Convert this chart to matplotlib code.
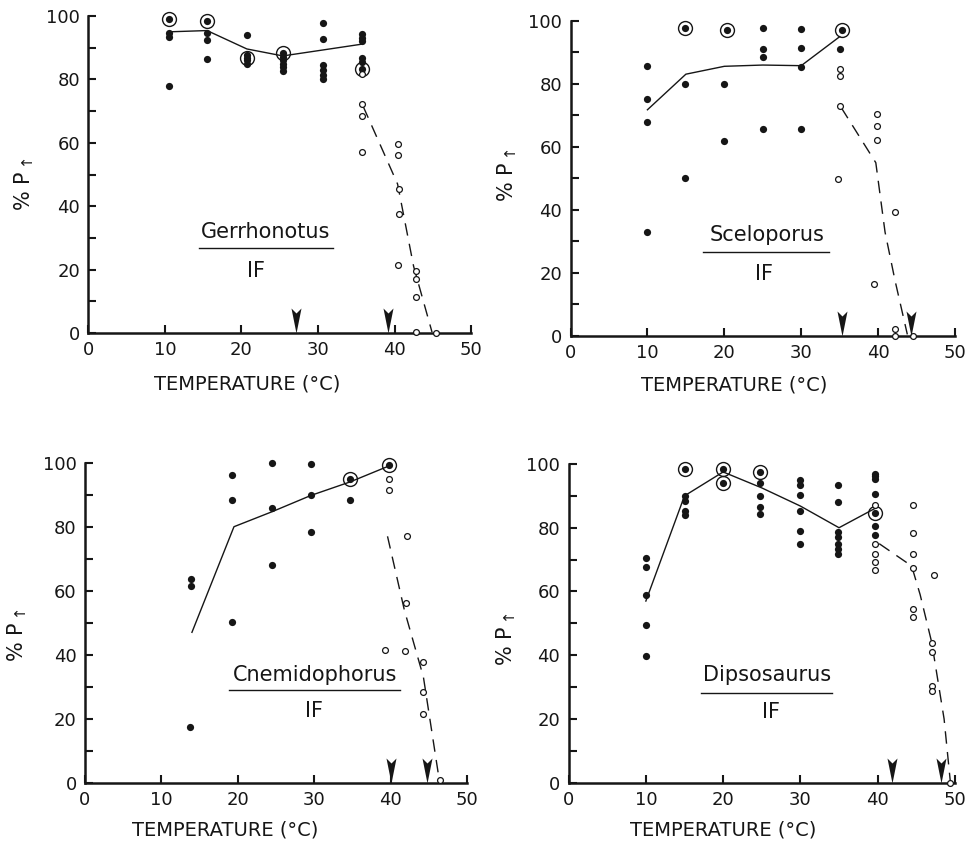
import matplotlib
matplotlib.use("Agg")
import matplotlib.pyplot as plt
from matplotlib.path import Path

INK = "#161616"

# ---- Gerrhonotus (IF) ----
gerr_fill_x = [10.5, 10.5, 10.5, 15.5, 15.5, 15.5, 20.7, 20.7, 20.7, 20.7,
               25.4, 25.4, 25.4, 25.4, 25.4, 30.7, 30.7, 30.7, 30.7, 30.7, 30.7,
               35.7, 35.7, 35.7, 35.7, 35.7]
gerr_fill_y = [94.7, 93.3, 77.9, 94.6, 92.5, 86.3, 94.0, 87.7, 86.1, 84.8,
               87.1, 86.1, 84.9, 83.9, 82.8, 97.8, 92.7, 84.6, 83.1, 81.5, 80.0,
               94.2, 93.1, 92.2, 86.6, 85.6]
gerr_ring_x = [10.5, 15.5, 20.7, 25.4, 35.7]
gerr_ring_y = [99.1, 98.4, 86.6, 88.3, 83.3]
gerr_open_x = [35.7, 35.7, 35.7, 35.7, 40.4, 40.4, 40.6, 40.6, 40.4,
               42.8, 42.8, 42.8, 42.8, 45.4]
gerr_open_y = [81.7, 72.1, 68.5, 57.2, 59.7, 56.1, 45.4, 37.4, 21.5,
               19.7, 17.0, 11.3, 0.3, 0.0]
gerr_mean_x = [10.5, 15.5, 20.7, 25.4, 30.7, 35.7]
gerr_mean_y = [95.0, 95.4, 89.6, 87.4, 89.3, 91.1]
gerr_dash_x = [35.9, 40.4, 42.5, 44.9]
gerr_dash_y = [71.5, 47.0, 21.0, 0.3]
gerr_arrows = [27.1, 39.2]

# ---- Sceloporus (IF) ----
scel_fill_x = [10, 10, 10, 10, 14.9, 14.9, 20, 20, 25, 25, 25, 25,
               30, 30, 30, 30, 35.0]
scel_fill_y = [85.8, 75.3, 68.0, 33.0, 80.0, 50.0, 80.0, 62.0, 97.9, 91.1, 88.5, 65.7,
               97.4, 91.4, 85.5, 65.7, 91.1]
scel_ring_x = [14.9, 20.3, 35.3]
scel_ring_y = [97.8, 97.2, 97.2]
scel_open_x = [35.1, 35.1, 35.1, 34.8, 39.8, 39.8, 39.8, 39.5, 42.2, 42.2, 42.2, 44.5]
scel_open_y = [84.6, 82.4, 73.0, 49.7, 70.6, 66.6, 62.3, 16.4, 39.5, 2.2, 0.0, 0.0]
scel_mean_x = [10, 15, 20, 25, 30, 35]
scel_mean_y = [71.8, 83.1, 85.6, 86.0, 85.8, 95.0]
scel_dash_x = [35.2, 39.7, 40.9, 42.2, 43.8]
scel_dash_y = [72.5, 55.0, 33.0, 17.6, 0.5]
scel_arrows = [35.3, 44.3]

# ---- Cnemidophorus (IF) ----
cnem_fill_x = [13.9, 13.9, 13.8, 19.3, 19.3, 19.2, 24.5, 24.5, 24.5,
               29.6, 29.6, 29.6, 34.7]
cnem_fill_y = [63.8, 61.5, 17.5, 96.1, 88.5, 50.3, 99.8, 85.7, 67.9,
               99.5, 89.8, 78.4, 88.2]
cnem_ring_x = [34.7, 39.8]
cnem_ring_y = [94.8, 99.3]
cnem_open_x = [39.8, 39.8, 39.3, 42.2, 42.0, 41.9, 44.3, 44.3, 44.2, 46.5]
cnem_open_y = [94.8, 91.5, 41.4, 77.0, 56.1, 41.3, 37.6, 28.5, 21.6, 1.0]
cnem_mean_x = [14.0, 19.5, 24.5, 29.6, 34.7, 39.8]
cnem_mean_y = [47.0, 80.0, 84.7, 89.8, 94.0, 99.0]
cnem_dash_x = [39.6, 41.8, 44.3, 46.3]
cnem_dash_y = [77.0, 54.0, 33.0, 2.0]
cnem_arrows = [40.0, 44.8]

# ---- Dipsosaurus (IF) ----
dips_fill_x = [10, 10, 10, 10, 10, 15.1, 15.1, 15.1, 15.1,
               24.8, 24.8, 24.8, 24.8,
               29.9, 29.9, 29.9, 29.9, 29.9, 29.9,
               34.9, 34.9, 34.9, 34.9, 34.9, 34.9, 34.9,
               39.7, 39.7, 39.7, 39.7, 39.7, 39.7]
dips_fill_y = [70.5, 67.7, 58.9, 49.6, 39.6, 89.8, 88.5, 85.2, 84.1,
               93.9, 89.8, 86.4, 84.3,
               95.1, 93.4, 90.3, 85.3, 79.1, 74.8,
               93.4, 88.0, 78.6, 77.1, 75.0, 73.4, 71.7,
               96.8, 96.1, 95.3, 90.6, 80.4, 77.6]
dips_ring_x = [15.1, 20.0, 20.0, 24.8, 39.7]
dips_ring_y = [98.3, 98.3, 93.9, 97.6, 84.6]
dips_open_x = [39.7, 39.7, 39.7, 39.7, 39.7,
               44.6, 44.6, 44.6, 44.6, 44.6, 44.6,
               47.3, 47.0, 47.0, 47.0, 47.0, 49.4]
dips_open_y = [87.2, 75.0, 71.9, 69.3, 66.7,
               87.1, 78.2, 71.9, 67.4, 54.6, 52.0,
               65.3, 43.7, 41.1, 30.2, 28.9, 0.0]
dips_mean_x = [10, 15, 20, 25, 30, 35, 40]
dips_mean_y = [57.0, 90.0, 97.5, 92.5, 86.8, 80.0, 86.5]
dips_dash_x = [40.2, 44.4, 45.5, 47.0, 48.6, 49.4]
dips_dash_y = [75.0, 68.0, 59.0, 44.0, 20.0, 0.5]
dips_arrows = [41.9, 48.2]

# notched down-pointing arrowhead, tip at the marker origin
ARROW = Path([(0, 0), (-0.2, 1.0), (0, 0.8), (0.2, 1.0), (0, 0)],
             [Path.MOVETO, Path.LINETO, Path.LINETO, Path.LINETO, Path.CLOSEPOLY])

plt.rcParams['font.family'] = ['DejaVu Sans']

fig = plt.figure(figsize=(9.67, 8.41), dpi=100)
fig.patch.set_facecolor('white')

panels = [
    dict(rect=[0.0915, 0.604, 0.3956, 0.377], name='Gerrhonotus',
         fx=gerr_fill_x, fy=gerr_fill_y, rx=gerr_ring_x, ry=gerr_ring_y,
         ox=gerr_open_x, oy=gerr_open_y, mx=gerr_mean_x, my=gerr_mean_y,
         dx=gerr_dash_x, dy=gerr_dash_y, arrows=gerr_arrows,
         name_xy=(0.464, 0.32), bar=(0.29, 0.638, 0.267), if_xy=(0.438, 0.197),
         ylab=(-0.137, 0.47), xlab=(0.414, -0.132)),
    dict(rect=[0.590, 0.6005, 0.3976, 0.3746], name='Sceloporus',
         fx=scel_fill_x, fy=scel_fill_y, rx=scel_ring_x, ry=scel_ring_y,
         ox=scel_open_x, oy=scel_open_y, mx=scel_mean_x, my=scel_mean_y,
         dx=scel_dash_x, dy=scel_dash_y, arrows=scel_arrows,
         name_xy=(0.51, 0.32), bar=(0.345, 0.672, 0.268), if_xy=(0.503, 0.197),
         ylab=(-0.135, 0.51), xlab=(0.425, -0.124)),
    dict(rect=[0.0879, 0.0693, 0.395, 0.3805], name='Cnemidophorus',
         fx=cnem_fill_x, fy=cnem_fill_y, rx=cnem_ring_x, ry=cnem_ring_y,
         ox=cnem_open_x, oy=cnem_open_y, mx=cnem_mean_x, my=cnem_mean_y,
         dx=cnem_dash_x, dy=cnem_dash_y, arrows=cnem_arrows,
         name_xy=(0.602, 0.337), bar=(0.378, 0.825, 0.29), if_xy=(0.6, 0.225),
         ylab=(-0.146, 0.46), xlab=(0.366, -0.117)),
    dict(rect=[0.588, 0.0693, 0.3995, 0.379], name='Dipsosaurus',
         fx=dips_fill_x, fy=dips_fill_y, rx=dips_ring_x, ry=dips_ring_y,
         ox=dips_open_x, oy=dips_open_y, mx=dips_mean_x, my=dips_mean_y,
         dx=dips_dash_x, dy=dips_dash_y, arrows=dips_arrows,
         name_xy=(0.514, 0.338), bar=(0.344, 0.683, 0.282), if_xy=(0.525, 0.223),
         ylab=(-0.13, 0.45), xlab=(0.40, -0.117)),
]

for p in panels:
    ax = fig.add_axes(p['rect'])
    ax.set_xlim(0, 50)
    ax.set_ylim(0, 100)

    ### lines
    ax.plot(p['mx'], p['my'], color=INK, lw=1.0, zorder=2)
    ax.plot(p['dx'], p['dy'], color=INK, lw=1.0, dashes=(9, 6), zorder=2)

    ### points
    ax.plot(p['fx'], p['fy'], 'o', ms=5.2, mfc=INK, mec=INK, mew=0,
            zorder=3, clip_on=False)
    ax.plot(p['rx'], p['ry'], 'o', ms=5.2, mfc=INK, mec=INK, mew=0,
            zorder=3, clip_on=False)
    ax.plot(p['rx'], p['ry'], 'o', ms=10, mfc='none', mec=INK, mew=1.0,
            zorder=3, clip_on=False)
    ax.plot(p['ox'], p['oy'], 'o', ms=4.2, mfc='white', mec=INK, mew=0.9,
            zorder=4, clip_on=False)

    ### arrowheads on the temperature axis
    ax.plot(p['arrows'], [0] * len(p['arrows']), linestyle='none', marker=ARROW,
            ms=36, mfc=INK, mec=INK, mew=0, zorder=5, clip_on=False)

    ### species label
    nx, ny = p['name_xy']
    ax.text(nx, ny, p['name'], transform=ax.transAxes, ha='center', va='center',
            fontsize=15, color=INK)
    x0, x1, yb = p['bar']
    ax.plot([x0, x1], [yb, yb], transform=ax.transAxes, color=INK, lw=1.0)
    ix, iy = p['if_xy']
    ax.text(ix, iy, 'IF', transform=ax.transAxes, ha='center', va='center',
            fontsize=15, color=INK)

    ### axes styling
    for side in ['top', 'right']:
        ax.spines[side].set_visible(False)
    for side in ['left', 'bottom']:
        ax.spines[side].set_linewidth(1.8)
        ax.spines[side].set_color(INK)
    ax.set_xticks([0, 10, 20, 30, 40, 50])
    ax.set_yticks([0, 20, 40, 60, 80, 100])
    ax.set_yticks([10, 30, 50, 70, 90], minor=True)
    ax.tick_params(axis='x', direction='in', length=6, width=1.5, pad=6,
                   labelsize=13, colors=INK)
    ax.tick_params(axis='y', which='both', direction='in', length=5.5, width=1.5,
                   pad=6, labelsize=13, colors=INK)

    ax.set_ylabel('% P$_{\\uparrow}$', fontsize=15, color=INK)
    ax.yaxis.set_label_coords(*p['ylab'])
    ax.set_xlabel('TEMPERATURE (°C)', fontsize=14, color=INK)
    ax.xaxis.set_label_coords(*p['xlab'])

fig.savefig('out.png', dpi=100, facecolor='white')
